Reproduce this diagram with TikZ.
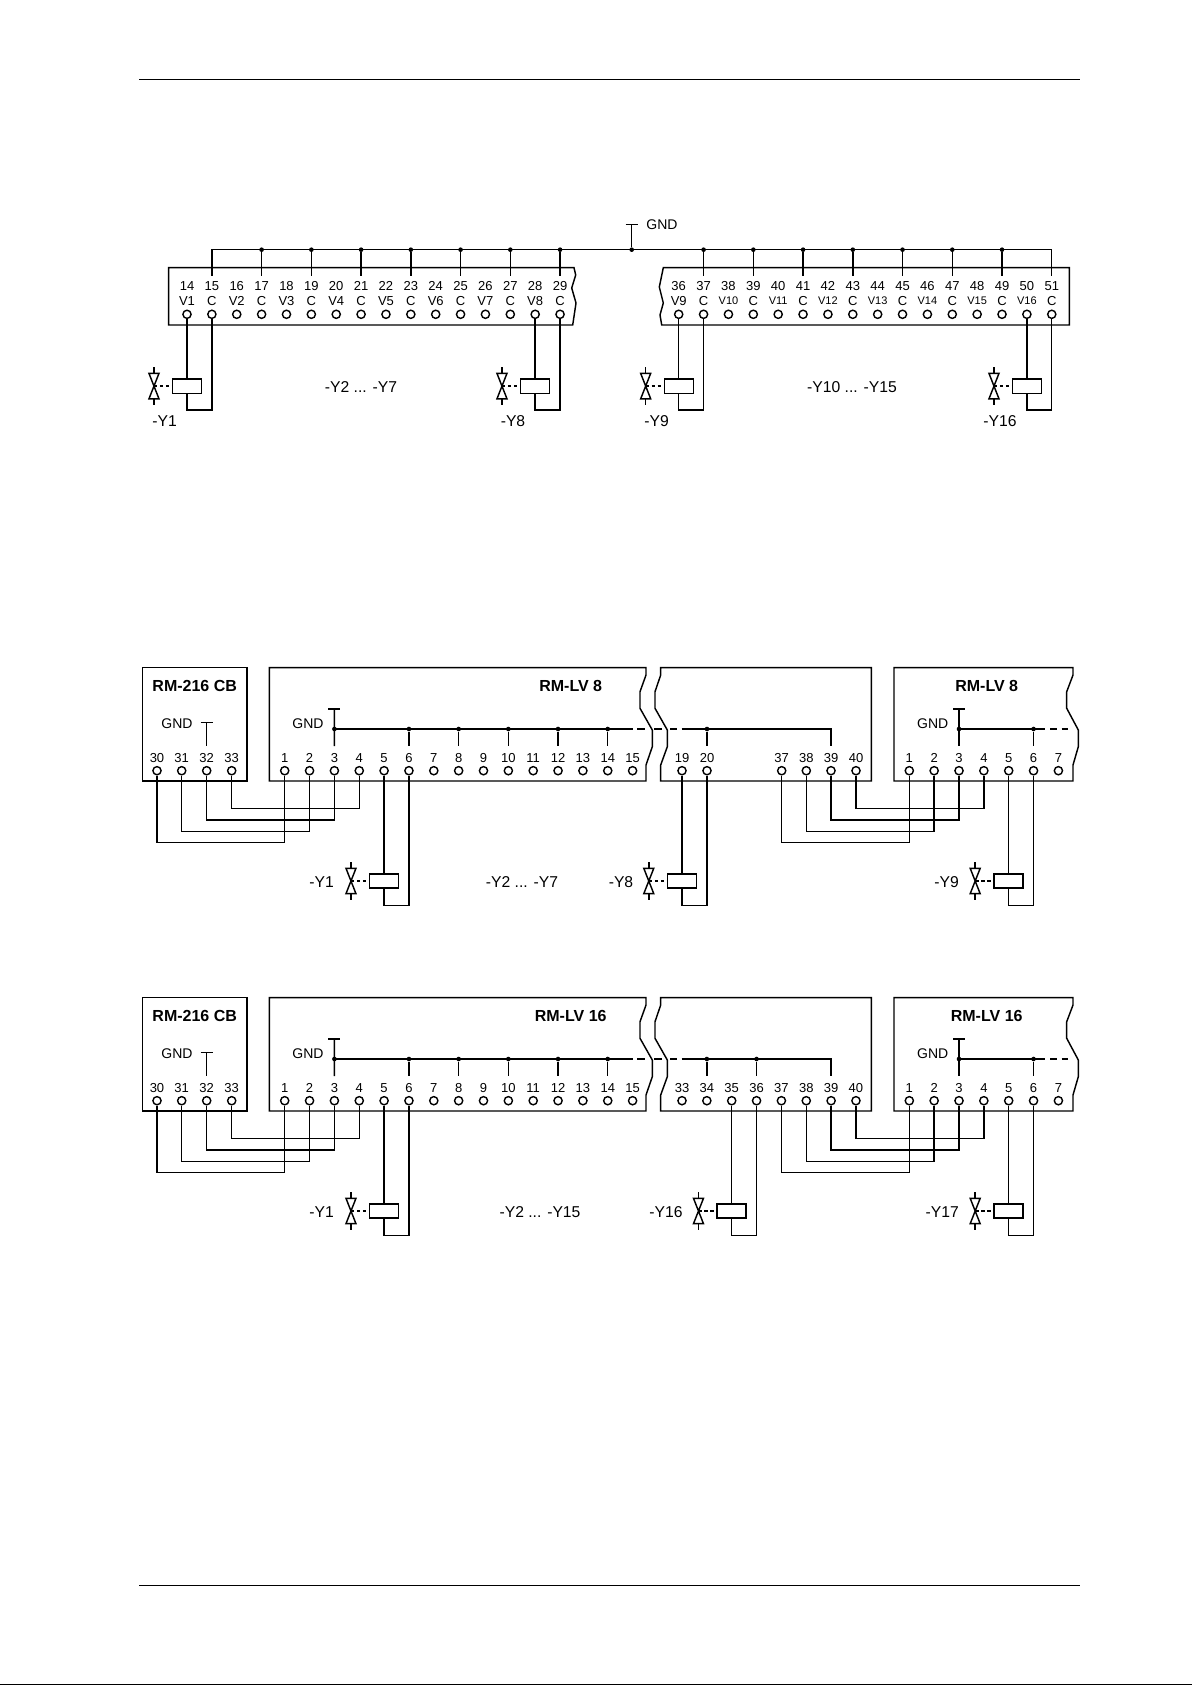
\documentclass[tikz,border=0pt]{standalone}
\usepackage{fontspec}
\setmainfont{Liberation Sans}
\tikzset{
  wire/.style={line width=1.45pt,black,line join=miter},
  frame/.style={line width=1.45pt,black,line join=miter},
  term/.style={circle,draw=black,line width=1.4pt,fill=white,inner sep=0pt,minimum size=8.2pt},
  jn/.style={circle,fill=black,inner sep=0pt,minimum size=4.6pt},
  numlab/.style={inner sep=0pt,text height=9.3pt,text depth=0pt,font=\fontsize{13}{15}\selectfont},
  sigsmall/.style={inner sep=0pt,text height=7.9pt,text depth=0pt,font=\fontsize{11}{13}\selectfont},
  gndlab/.style={inner sep=0pt,text height=10pt,text depth=0pt,font=\fontsize{14}{16}\selectfont},
  ylab/.style={inner sep=0pt,text height=11.2pt,text depth=0pt,font=\fontsize{15.7}{18}\selectfont},
  title/.style={inner sep=0pt,text height=11.5pt,text depth=0pt,font=\bfseries\fontsize{16}{18}\selectfont},
  coil/.style={rectangle,draw=black,line width=1.45pt,fill=none,inner sep=0pt,minimum width=29pt,minimum height=14.4pt},
  ctrl/.style={line width=1.45pt,black,dash pattern=on 3.5pt off 2.5pt}
}
% #1 id, #2 left terminal, #3 right terminal, #4 coil centre x, #5 coil centre y, #6 wire-bottom y
\newcommand{\valvecoil}[6]{
  \node[coil] (coil#1) at (#4,#5) {};
  \coordinate (valve#1) at ([xshift=-18pt]coil#1.west);
  \draw[wire] (valve#1)+(-5,-12.7) -- +(5,-12.7) -- +(-5,12.7) -- +(5,12.7) -- cycle;
  \draw[wire] (valve#1)+(0,-19) -- +(0,-12.7);
  \draw[wire] (valve#1)+(0,12.7) -- +(0,19);
  \draw[ctrl] (valve#1) -- (coil#1.west);
  \draw[wire] (#2) -- (#2 |- coil#1.north);
  \draw[wire] (#2 |- coil#1.south) -- (#2 |- 0,#6) -- (#3 |- 0,#6) -- (#3);
}
% #1 prefix, #2 dy, #3 left title x, #4 title
\newcommand{\moduleblock}[4]{
  % RM-216 CB
  \draw[frame] (142.3,667.7+#2) rectangle (247,781+#2);
  \node[title] (#1tA) at (194.7,685.3+#2) {RM-216 CB};
  \node[gndlab] (#1gA) at (177,723.3+#2) {GND};
  \foreach \n/\xx in {30/157,31/181.7,32/206.7,33/231.7}{
    \node[term] (#1p\n) at (\xx,770.7+#2) {};
    \node[numlab] (#1pl\n) at (\xx,757.7+#2) {\n};
  }
  \coordinate (#1Tp) at (206.7,722.3+#2);
  \draw[wire] (#1Tp)+(-6,0) -- +(6,0);
  \draw[wire] (#1Tp) -- (#1p32 |- 0,746+#2);
  % main module, left part
  \draw[frame] (646,667.7+#2) -- (269.3,667.7+#2) -- (269.3,781+#2) -- (646,781+#2) -- (646,765+#2) -- (652.3,746.7+#2) -- (652.3,730+#2) -- (640,708.3+#2) -- (640,691.7+#2) -- (646,675+#2) -- cycle;
  \node[title] (#1tB) at (#3,685.3+#2) {#4};
  \node[gndlab] (#1gB) at (308,723.3+#2) {GND};
  \foreach \n [count=\i from 0] in {1,...,15}{
    \pgfmathsetmacro\xx{284.7+24.85*\i}
    \node[term] (#1q\n) at (\xx,770.7+#2) {};
    \node[numlab] (#1ql\n) at (\xx,757.7+#2) {\n};
  }
  \coordinate (#1Tq) at (334.4,709+#2);
  \draw[wire] (#1Tq)+(-6,0) -- +(6,0);
  \draw[wire] (#1Tq) -- (#1q3 |- 0,746+#2);
  \node[jn] (#1jq3) at (#1q3 |- 0,729+#2) {};
  \foreach \n in {6,8,10,12,14}{
    \node[jn] (#1jq\n) at (#1q\n |- 0,729+#2) {};
    \draw[wire] (#1jq\n) -- (#1q\n |- 0,746+#2);
  }
  % main module, right part
  \draw[frame] (660.7,781+#2) -- (871.3,781+#2) -- (871.3,667.7+#2) -- (660.7,667.7+#2) -- (660.7,675+#2) -- (655,691.7+#2) -- (655,708.3+#2) -- (667.3,730+#2) -- (667.3,746.7+#2) -- (660.7,765+#2) -- cycle;
  % extension module
  \draw[frame] (1073,667.7+#2) -- (894,667.7+#2) -- (894,781+#2) -- (1073,781+#2) -- (1073,765+#2) -- (1078.3,746.7+#2) -- (1078.3,730+#2) -- (1066.7,708.3+#2) -- (1066.7,691.7+#2) -- (1073,675+#2) -- cycle;
  \node[title] (#1tC) at (986.7,685.3+#2) {#4};
  \node[gndlab] (#1gC) at (932.7,723.3+#2) {GND};
  \foreach \n [count=\i from 0] in {1,...,7}{
    \pgfmathsetmacro\xx{909.3+24.85*\i}
    \node[term] (#1s\n) at (\xx,770.7+#2) {};
    \node[numlab] (#1sl\n) at (\xx,757.7+#2) {\n};
  }
  \coordinate (#1Ts) at (959,709+#2);
  \draw[wire] (#1Ts)+(-6,0) -- +(6,0);
  \draw[wire] (#1Ts) -- (#1s3 |- 0,746+#2);
  \node[jn] (#1js3) at (#1s3 |- 0,729+#2) {};
  \node[jn] (#1js6) at (#1s6 |- 0,729+#2) {};
  \draw[wire] (#1js6) -- (#1s6 |- 0,746+#2);
  \draw[wire] (#1js3.center) -- (#1js6.center) -- (1045,729+#2);
  \draw[wire] (1050,729+#2) -- (1056.7,729+#2);
  \draw[wire] (1061.7,729+#2) -- (1068.3,729+#2);
  % bus dashes across the break
  \draw[wire] (#1jq3.center) -- (633.3,729+#2);
  \draw[wire] (637.3,729+#2) -- (645,729+#2);
  \draw[wire] (654,729+#2) -- (661.7,729+#2);
  \draw[wire] (670,729+#2) -- (677,729+#2);
}
% #1 prefix, #2 dy : cross wiring; needs terminal 37..40 of the middle part
\newcommand{\crosswires}[2]{
  \draw[wire] (#1p33) -- (#1p33 |- 0,808.7+#2) -- (#1q4 |- 0,808.7+#2) -- (#1q4);
  \draw[wire] (#1p32) -- (#1p32 |- 0,820+#2) -- (#1q3 |- 0,820+#2) -- (#1q3);
  \draw[wire] (#1p31) -- (#1p31 |- 0,831.3+#2) -- (#1q2 |- 0,831.3+#2) -- (#1q2);
  \draw[wire] (#1p30) -- (#1p30 |- 0,842.7+#2) -- (#1q1 |- 0,842.7+#2) -- (#1q1);
  \draw[wire] (#1r40) -- (#1r40 |- 0,808.7+#2) -- (#1s4 |- 0,808.7+#2) -- (#1s4);
  \draw[wire] (#1r39) -- (#1r39 |- 0,820+#2) -- (#1s3 |- 0,820+#2) -- (#1s3);
  \draw[wire] (#1r38) -- (#1r38 |- 0,831.3+#2) -- (#1s2 |- 0,831.3+#2) -- (#1s2);
  \draw[wire] (#1r37) -- (#1r37 |- 0,842.7+#2) -- (#1s1 |- 0,842.7+#2) -- (#1s1);
}
\begin{document}
\begin{tikzpicture}[x=1pt,y=-1pt]
\useasboundingbox[fill=white] (0,0) rectangle (1192,1685);
% page rules
\coordinate (ruleTL) at (139,79.3);
\coordinate (ruleTR) at (1080,79.3);
\coordinate (ruleBL) at (139,1585.3);
\coordinate (ruleBR) at (1080,1585.3);
\draw[line width=1.2pt] (ruleTL) -- (ruleTR);
\draw[line width=1.2pt] (ruleBL) -- (ruleBR);
\draw[line width=1.2pt] (0,1684.4) -- (1192,1684.4);

%% ---------- top strip ----------
\draw[frame] (574,267.7) -- (168.7,267.7) -- (168.7,325) -- (572.7,325) -- (576,303) -- (571.7,288) -- (575.7,275) -- cycle;
\draw[frame] (663.3,267.7) -- (1069.3,267.7) -- (1069.3,325) -- (661.7,325) -- (660,315) -- (663.3,303) -- (659.3,287) -- cycle;
\foreach \n/\sig [count=\i from 0] in {14/V1,15/C,16/V2,17/C,18/V3,19/C,20/V4,21/C,22/V5,23/C,24/V6,25/C,26/V7,27/C,28/V8,29/C}{
  \pgfmathsetmacro\xx{187+24.87*\i}
  \node[term] (a\n) at (\xx,314.3) {};
  \node[numlab] (al\n) at (\xx,285.7) {\n};
  \node[numlab] (as\n) at (\xx,301) {\sig};
}
\foreach \n/\sig [count=\i from 0] in {36/V9,37/C,39/C,41/C,43/C,45/C,47/C,49/C,51/C}{
  \pgfmathsetmacro\xx{678.7+24.87*(\n-36)}
  \node[term] (b\n) at (\xx,314.3) {};
  \node[numlab] (bl\n) at (\xx,285.7) {\n};
  \node[numlab] (bs\n) at (\xx,301) {\sig};
}
\foreach \n/\sig in {38/V10,40/V11,42/V12,44/V13,46/V14,48/V15,50/V16}{
  \pgfmathsetmacro\xx{678.7+24.87*(\n-36)}
  \node[term] (b\n) at (\xx,314.3) {};
  \node[numlab] (bl\n) at (\xx,285.7) {\n};
  \node[sigsmall] (bs\n) at (\xx,301) {\sig};
}
\draw[wire] (a15 |- 0,276) -- (a15 |- 0,249.7) -- (b51 |- 0,249.7) -- (b51 |- 0,276);
\foreach \n in {17,19,21,23,25,27,29}{
  \node[jn] (ja\n) at (a\n |- 0,249.7) {};
  \draw[wire] (ja\n) -- (a\n |- 0,276);
}
\foreach \n in {37,39,41,43,45,47,49}{
  \node[jn] (jb\n) at (b\n |- 0,249.7) {};
  \draw[wire] (jb\n) -- (b\n |- 0,276);
}
\node[jn] (jgnd) at (631.7,249.7) {};
\coordinate (Tgnd) at (631.7,224.3);
\draw[wire] (Tgnd)+(-6,0) -- +(6,0);
\draw[wire] (jgnd) -- (Tgnd);
\node[gndlab] (lgnd) at (662,224.3) {GND};

\valvecoil{a}{a14}{a15}{187.2}{386.1}{410}
\valvecoil{b}{a28}{a29}{535.2}{386.1}{410}
\valvecoil{c}{b36}{b37}{678.9}{386.1}{410}
\valvecoil{d}{b50}{b51}{1027.2}{386.1}{410}
\node[ylab] (ly1) at (164.7,420.7) {-Y1};
\node[ylab] (ly27) at (361,386.5) {-Y2 ... -Y7};
\node[ylab] (ly8) at (513,420.7) {-Y8};
\node[ylab] (ly9) at (656.7,420.7) {-Y9};
\node[ylab] (ly1015) at (852,386.5) {-Y10 ... -Y15};
\node[ylab] (ly16) at (1000,420.7) {-Y16};

%% ---------- RM-LV 8 block ----------
\moduleblock{m}{0}{570.7}{RM-LV 8}
\foreach \n/\xx in {19/682,20/707,37/781.7,38/806.3,39/831,40/856}{
  \node[term] (mr\n) at (\xx,770.7) {};
  \node[numlab] (mrl\n) at (\xx,757.7) {\n};
}
\node[jn] (mjr20) at (mr20 |- 0,729) {};
\draw[wire] (mjr20) -- (mr20 |- 0,746);
\draw[wire] (681.7,729) -- (mjr20.center) -- (mr39 |- 0,729) -- (mr39 |- 0,746);
\crosswires{m}{0}
\valvecoil{e}{mq5}{mq6}{384.2}{881}{905.3}
\valvecoil{f}{mr19}{mr20}{682}{881}{905.3}
\valvecoil{g}{ms5}{ms6}{1008.4}{881}{905.3}
\node[ylab] (my1) at (321.7,881.5) {-Y1};
\node[ylab] (my27) at (522,881.5) {-Y2 ... -Y7};
\node[ylab] (my8) at (621,881.5) {-Y8};
\node[ylab] (my9) at (946.7,881.5) {-Y9};

%% ---------- RM-LV 16 block ----------
\moduleblock{n}{330}{570.7}{RM-LV 16}
\foreach \n [count=\i from 0] in {33,...,40}{
  \pgfmathsetmacro\xx{682+24.85*\i}
  \node[term] (nr\n) at (\xx,1100.7) {};
  \node[numlab] (nrl\n) at (\xx,1087.7) {\n};
}
\node[jn] (njr34) at (nr34 |- 0,1059) {};
\node[jn] (njr36) at (nr36 |- 0,1059) {};
\draw[wire] (njr34) -- (nr34 |- 0,1076);
\draw[wire] (njr36) -- (nr36 |- 0,1076);
\draw[wire] (681.7,1059) -- (njr34.center) -- (njr36.center) -- (nr39 |- 0,1059) -- (nr39 |- 0,1076);
\crosswires{n}{330}
\valvecoil{h}{nq5}{nq6}{384.2}{1211}{1235.3}
\valvecoil{i}{nr35}{nr36}{731.7}{1211}{1235.3}
\valvecoil{j}{ns5}{ns6}{1008.4}{1211}{1235.3}
\node[ylab] (ny1) at (321.7,1211.5) {-Y1};
\node[ylab] (ny215) at (540,1211.5) {-Y2 ... -Y15};
\node[ylab] (ny16) at (666,1211.5) {-Y16};
\node[ylab] (ny17) at (942.3,1211.5) {-Y17};
\end{tikzpicture}
\end{document}
